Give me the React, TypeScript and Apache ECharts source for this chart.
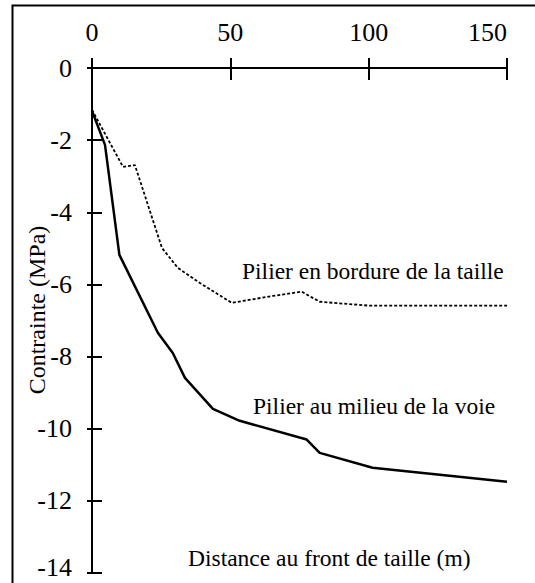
import React, { useEffect, useRef } from "react";
import * as echarts from "echarts";

const xTicks = [0, 50, 100, 150];
const yTicks = [0, -2, -4, -6, -8, -10, -12, -14];

const milieuX = [0, 4.7, 9.9, 23.8, 29.2, 33.6, 43.7, 53.4, 77.6, 82.3, 101.4, 150];
const milieuY = [-1.19, -2.13, -5.18, -7.34, -7.9, -8.59, -9.45, -9.78, -10.3, -10.67, -11.08, -11.47];

const bordureX = [0, 11.2, 15.5, 25.3, 31, 39, 50.5, 65.3, 75.8, 82.3, 100.4, 150];
const bordureY = [-1.16, -2.74, -2.69, -4.99, -5.54, -5.96, -6.51, -6.32, -6.2, -6.48, -6.59, -6.59];

const labelBordure = "Pilier en bordure de la taille";
const labelMilieu = "Pilier au milieu de la voie";
const xTitle = "Distance au front de taille (m)";
const yTitle = "Contrainte (MPa)";

const FONT = "Liberation Serif";

export default function App() {
  const ref = useRef<HTMLDivElement>(null);
  useEffect(() => {
    if (!ref.current) return;
    const chart = echarts.init(ref.current, null, { renderer: "svg" });
    const axisLine = { show: true, onZero: false, lineStyle: { color: "#000", width: 2 } };
    const xBase = { type: "value", min: 0, max: 150, interval: 50, position: "top", splitLine: { show: false } };
    const yBase = { type: "value", min: -14, max: 0, interval: 2, position: "left", splitLine: { show: false } };
    const txt = (text: string, size: number) => ({ text, fontSize: size, fontFamily: FONT, fill: "#000" });
    chart.setOption({
      animation: false,
      backgroundColor: "#fff",
      textStyle: { fontFamily: FONT },
      grid: { left: 92, right: 28, top: 68, bottom: 10, containLabel: false },
      xAxis: [
        {
          ...xBase,
          axisLine,
          axisTick: { show: true, inside: false, length: 10, lineStyle: { color: "#000", width: 2 } },
          axisLabel: {
            show: true,
            margin: 23,
            color: "#000",
            fontSize: 26,
            fontFamily: FONT,
            alignMaxLabel: "right",
            formatter: (v: number) => (xTicks.includes(v) ? String(v) : ""),
          },
        },
        {
          ...xBase,
          axisLine: { show: false },
          axisTick: { show: true, inside: true, length: 12, lineStyle: { color: "#000", width: 2 } },
          axisLabel: { show: false },
        },
      ],
      yAxis: [
        {
          ...yBase,
          axisLine,
          axisTick: { show: true, inside: false, length: 5, lineStyle: { color: "#000", width: 2 } },
          axisLabel: {
            show: true,
            margin: 20,
            color: "#000",
            fontSize: 26,
            fontFamily: FONT,
            formatter: (v: number) => (!yTicks.includes(v) ? "" : v === -14 ? "{low|-14}" : String(v)),
            rich: { low: { fontSize: 26, fontFamily: FONT, color: "#000", padding: [0, 0, 12, 0] } },
          },
        },
        {
          ...yBase,
          axisLine: { show: false },
          axisTick: { show: true, inside: true, length: 10, lineStyle: { color: "#000", width: 2 } },
          axisLabel: { show: false },
        },
      ],
      series: [
        {
          type: "line",
          xAxisIndex: 0,
          yAxisIndex: 0,
          data: milieuX.map((x, i) => [x, milieuY[i]]),
          showSymbol: false,
          symbol: "none",
          lineStyle: { color: "#000", width: 2.5 },
        },
        {
          type: "line",
          xAxisIndex: 0,
          yAxisIndex: 0,
          data: bordureX.map((x, i) => [x, bordureY[i]]),
          showSymbol: false,
          symbol: "none",
          lineStyle: { color: "#000", width: 1.8, type: [3, 2] },
        },
      ],
      graphic: {
        elements: [
          {
            type: "rect",
            shape: { x: 12.5, y: 5.5, width: 700, height: 700 },
            style: { fill: "none", stroke: "#000", lineWidth: 2 },
            silent: true,
          },
          {
            type: "text",
            x: 37,
            y: 310,
            rotation: Math.PI / 2,
            style: { ...txt(yTitle, 24), align: "center", verticalAlign: "middle" },
          },
          {
            type: "text",
            x: 242,
            y: 271,
            style: { ...txt(labelBordure, 23.5), align: "left", verticalAlign: "middle" },
          },
          {
            type: "text",
            x: 253,
            y: 406,
            style: { ...txt(labelMilieu, 23.5), align: "left", verticalAlign: "middle" },
          },
          {
            type: "text",
            x: 188,
            y: 558,
            style: { ...txt(xTitle, 23.5), align: "left", verticalAlign: "middle" },
          },
        ],
      },
    });
    return () => chart.dispose();
  }, []);
  return <div ref={ref} style={{ position: "fixed", left: 0, top: 0, width: 535, height: 583 }} />;
}
